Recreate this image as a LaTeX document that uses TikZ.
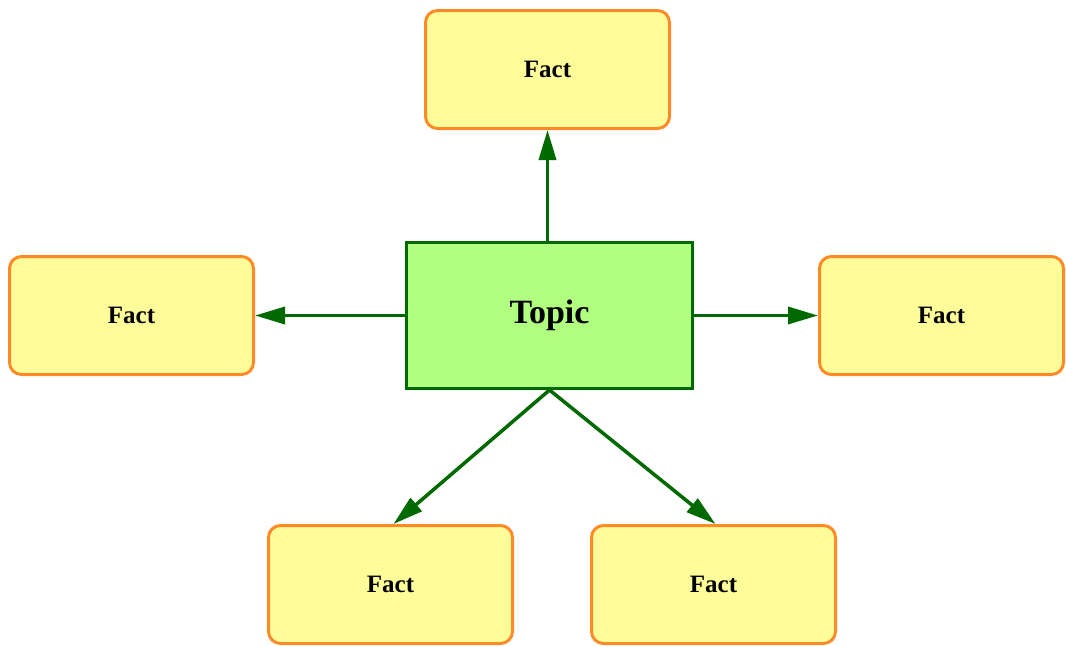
\documentclass[tikz,border=0pt]{standalone}
\usepackage{fontspec}
\setmainfont{Liberation Serif}
\usetikzlibrary{positioning, arrows.meta}
\definecolor{FactFill}{HTML}{FFFD99}
\definecolor{FactBorder}{HTML}{FF8A28}
\definecolor{TopicFill}{HTML}{B0FF80}
\definecolor{TopicBorder}{HTML}{006A00}
\tikzset{
    factnode/.style={rectangle, rounded corners=12pt, fill=FactFill, draw=FactBorder, line width=3pt, minimum width=244pt, minimum height=118pt, align=center, font=\fontsize{25}{30}\selectfont\bfseries},
    topicnode/.style={rectangle, fill=TopicFill, draw=TopicBorder, line width=3pt, minimum width=286pt, minimum height=146pt, align=center, font=\fontsize{34}{40}\selectfont\bfseries},
    arrow/.style={-{Triangle[length=30pt, width=17pt]}, line width=3.5pt, color=TopicBorder},
}
\begin{document}
\begin{tikzpicture}[x=1pt, y=-1pt]
    \useasboundingbox (0,0) rectangle (1066,646);
    % Centro
    \node[topicnode] (topic) at (549.5,315.5) {Topic};
    % Fatti
    \node[factnode] (factTop) at (547.5,69.5) {Fact};
    \node[factnode] (factLeft) at (131.5,315.5) {Fact};
    \node[factnode] (factRight) at (941.5,315.5) {Fact};
    \node[factnode] (factBL) at (390.5,584.5) {Fact};
    \node[factnode] (factBR) at (713.5,584.5) {Fact};
    % Frecce
    \draw[arrow] (topic.north -| factTop.south) -- (factTop.south);
    \draw[arrow] (topic.west) -- (factLeft.east);
    \draw[arrow] (topic.east) -- (factRight.west);
    \draw[arrow] (topic.south) -- ([xshift=3pt]factBL.north);
    \draw[arrow] (topic.south) -- ([xshift=2pt]factBR.north);
\end{tikzpicture}
\end{document}
